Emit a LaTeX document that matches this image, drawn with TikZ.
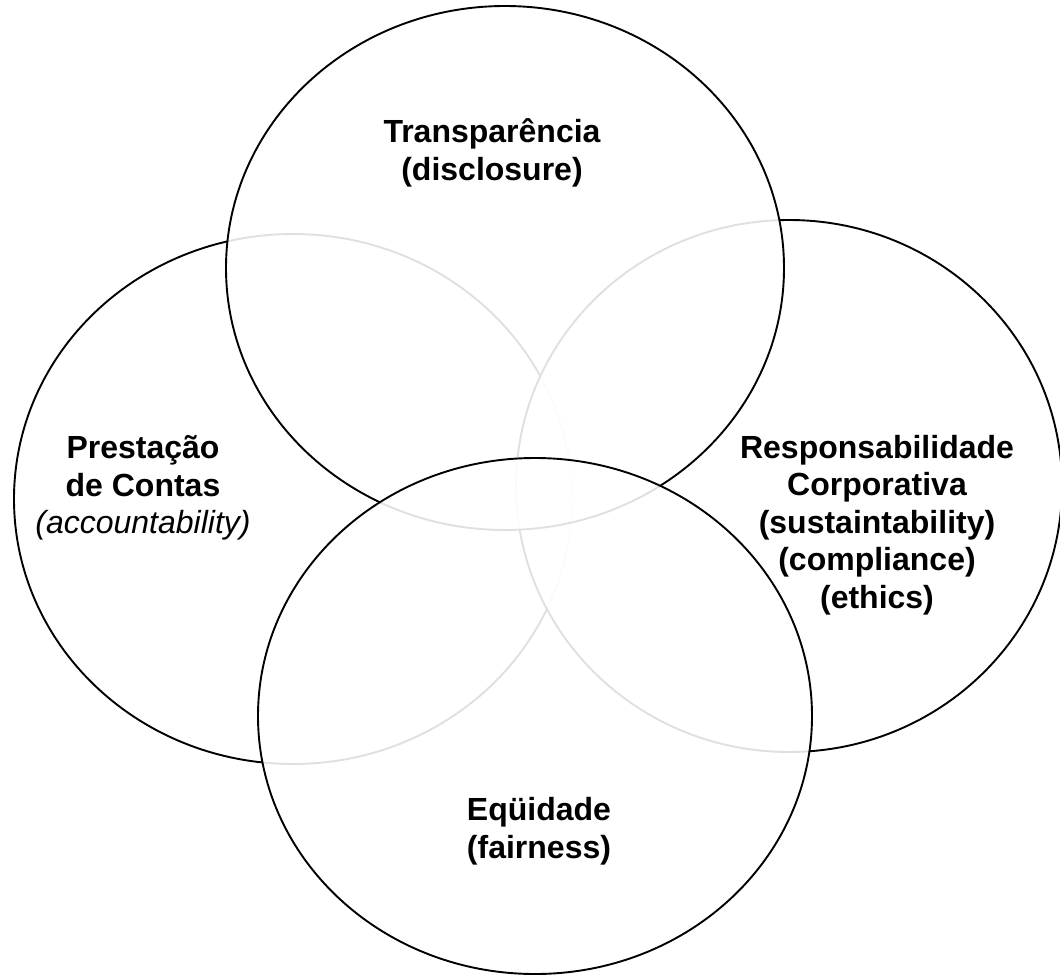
\documentclass[tikz,border=0pt]{standalone}
\usepackage{fontspec}
\setmainfont{Liberation Sans}
\usetikzlibrary{shapes.geometric}
\tikzset{
  venn/.style={ellipse, draw=black, line width=1.9pt, fill=white, fill opacity=0.88, inner sep=0pt},
  lbl/.style={align=center, inner sep=0pt, font=\fontsize{32}{37.5}\selectfont\bfseries}
}
\begin{document}
\begin{tikzpicture}[x=1pt,y=-1pt]
\useasboundingbox (0,0) rectangle (1060,975);
\node[venn, minimum width=558pt, minimum height=530pt] (L) at (293,499) {};
\node[venn, minimum width=546pt, minimum height=532pt] (R) at (789,486) {};
\node[venn, minimum width=558pt, minimum height=524pt] (T) at (505,268) {};
\node[venn, minimum width=554pt, minimum height=516pt] (B) at (535,716) {};
\node[lbl] (tT) at (492,153) {Transparência\\(disclosure)};
\node[lbl] (tL) at (143,488) {Prestação\\de Contas\\{\mdseries\itshape (accountability)}};
\node[lbl] (tR) at (877,525) {Responsabilidade\\Corporativa\\(sustaintability)\\(compliance)\\(ethics)};
\node[lbl] (tB) at (539,831) {Eqüidade\\(fairness)};
\end{tikzpicture}
\end{document}
